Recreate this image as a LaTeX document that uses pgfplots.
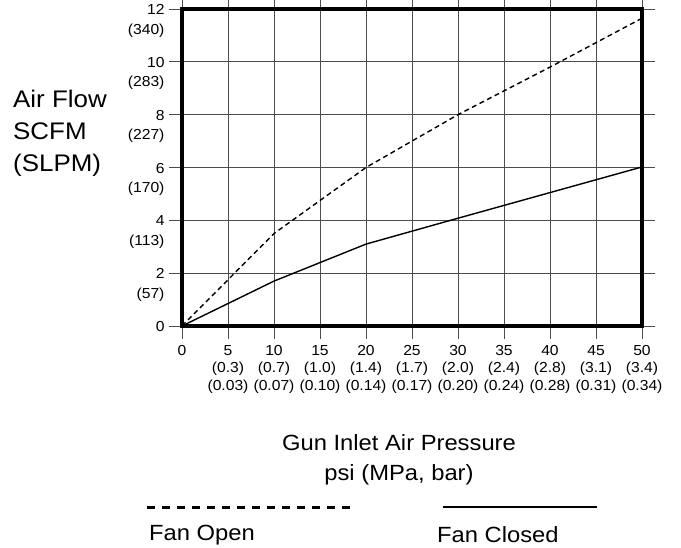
\documentclass[border=0pt]{standalone}
\usepackage{pgfplots}
\pgfplotsset{compat=1.18}
\usepackage{fontspec}
\setmainfont[FakeStretch=1.08]{Liberation Sans}
\begin{document}
\begin{tikzpicture}[x=1pt,y=1pt]
\useasboundingbox (0,0) rectangle (681,548);
\begin{axis}[
  at={(182pt,222pt)}, anchor=south west,
  scale only axis, width=460pt, height=317pt,
  xmin=0, xmax=50, ymin=0, ymax=12,
  xtick={0,5,...,50}, ytick={0,2,...,12},
  xticklabels={0,{5\\(0.3)\\(0.03)},{10\\(0.7)\\(0.07)},{15\\(1.0)\\(0.10)},{20\\(1.4)\\(0.14)},{25\\(1.7)\\(0.17)},{30\\(2.0)\\(0.20)},{35\\(2.4)\\(0.24)},{40\\(2.8)\\(0.28)},{45\\(3.1)\\(0.31)},{50\\(3.4)\\(0.34)}},
  yticklabels={0,{2\\(57)},{4\\(113)},{6\\(170)},{8\\(227)},{10\\(283)},{12\\(340)}},
  xticklabel style={align=center, font=\fontsize{14.5}{17.5}\selectfont, anchor=north, yshift=-2.5pt},
  yticklabel style={align=right, font=\fontsize{14.5}{19.5}\selectfont, anchor=north east, yshift=8pt, xshift=-1pt},
  tick align=outside, major tick length=13pt,
  tick style={black!70, line width=0.8pt},
  grid=major, major grid style={black!70, line width=0.9pt},
  axis line style={line width=3.2pt, black},
  clip=false,
]
\addplot[black, line width=1.4pt, dash pattern=on 5pt off 3.5pt] coordinates {(0,0) (10,3.5) (20,6.0) (30,8.0) (40,9.8) (50,11.65)};
\addplot[black, line width=1.4pt] coordinates {(0,0) (10,1.7) (20,3.1) (30,4.08) (40,5.05) (50,6.02)};
\end{axis}
\node[anchor=west, align=left, font=\fontsize{24}{32}\selectfont, inner sep=0pt] at (13,415) {Air Flow\\SCFM\\(SLPM)};
\node[align=center, font=\fontsize{22}{30}\selectfont, inner sep=0pt] at (399,88) {Gun Inlet Air Pressure\\psi (MPa, bar)};
\draw[black, line width=3pt, dash pattern=on 8pt off 7pt] (147,40) -- (352,40);
\draw[black, line width=2.2pt] (443,41) -- (597,41);
\node[anchor=west, font=\fontsize{22}{26}\selectfont, inner sep=0pt] at (149,13) {Fan Open};
\node[anchor=west, font=\fontsize{22}{26}\selectfont, inner sep=0pt] at (437,13) {Fan Closed};
\end{tikzpicture}
\end{document}
